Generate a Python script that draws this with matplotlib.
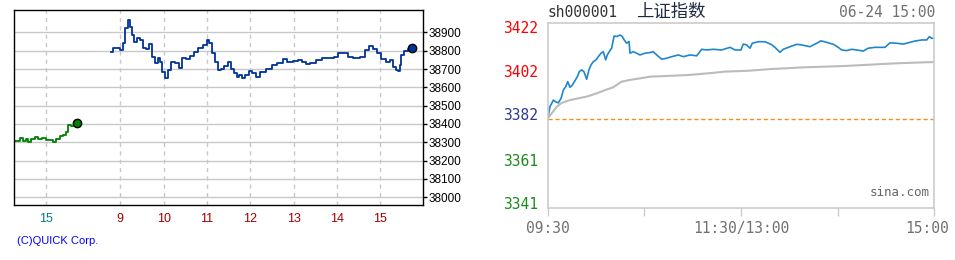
import matplotlib.pyplot as plt
from matplotlib.transforms import ScaledTranslation

# ---- left chart: futures, previous-day tail + day session (hours) ----
prev_hours = [14.278, 14.393, 14.462, 14.532, 14.578, 14.647, 14.739, 14.808, 14.901, 14.993,
              15.085, 15.155, 15.224, 15.316, 15.385, 15.455, 15.501, 15.570, 15.640, 15.709]
prev_vals = [38309, 38322, 38309, 38316, 38303, 38316, 38330, 38318, 38322, 38312,
             38312, 38303, 38316, 38334, 38340, 38358, 38394, 38389, 38394, 38403]

day_hours = [8.774, 8.832, 8.924, 8.993, 9.062, 9.108, 9.178, 9.224, 9.270, 9.316,
             9.385, 9.455, 9.524, 9.593, 9.662, 9.731, 9.800, 9.870, 9.916, 9.962,
             10.031, 10.100, 10.169, 10.262, 10.354, 10.424, 10.516, 10.609, 10.701, 10.793,
             10.909, 11.001, 11.047, 11.116, 11.186, 11.255, 11.324, 11.393, 11.485, 11.555,
             11.624, 11.693, 11.739, 11.806, 11.876, 11.968, 12.038, 12.130, 12.223, 12.361,
             12.500, 12.616, 12.754, 12.847, 12.985, 13.100, 13.193, 13.285, 13.377, 13.516,
             13.654, 13.793, 13.931, 14.023, 14.139, 14.254, 14.369, 14.531, 14.646, 14.739,
             14.831, 14.923, 15.016, 15.131, 15.223, 15.293, 15.362, 15.408, 15.454, 15.477,
             15.546, 15.639, 15.731]
day_vals = [38794, 38816, 38816, 38803, 38842, 38922, 38967, 38931, 38885, 38849,
            38867, 38858, 38813, 38811, 38836, 38767, 38731, 38758, 38740, 38685,
            38649, 38694, 38740, 38735, 38704, 38758, 38756, 38771, 38794, 38816,
            38831, 38858, 38843, 38785, 38740, 38694, 38700, 38718, 38736, 38700,
            38676, 38658, 38667, 38649, 38667, 38690, 38676, 38658, 38685, 38698,
            38722, 38734, 38753, 38740, 38745, 38749, 38740, 38725, 38734, 38749,
            38758, 38758, 38767, 38785, 38785, 38764, 38758, 38767, 38803, 38825,
            38811, 38785, 38753, 38740, 38749, 38713, 38694, 38689, 38722, 38776,
            38800, 38811, 38816]

left_yticks = [38000, 38100, 38200, 38300, 38400, 38500, 38600, 38700, 38800, 38900]
day_ticks = [9, 10, 11, 12, 13, 14, 15]
PREV_SHIFT = 7.708  # previous day drawn left of the day session

# ---- right chart: sh000001 intraday (minutes from 09:30, lunch removed) ----
prev_close = 3381.58
idx_min = [0, 1.4, 3.5, 5.0, 6.6, 8.3, 9.7, 11.2, 12.4, 13.8, 15.3, 16.9, 18.4, 19.6, 21.1,
           22.5, 24.2, 25.6, 26.9, 28.3, 30.0, 31.4, 33.1, 34.5, 36.0, 37.0, 38.2, 39.7, 41.2,
           42.8, 44.9, 46.3, 47.5, 49.0, 50.5, 51.1, 53.1, 55.2, 57.3, 60.4, 63.5, 65.5, 67.7,
           70.8, 73.9, 77.0, 81.1, 84.2, 88.3, 92.5, 95.6, 98.7, 102.8, 108.0, 113.2, 116.3,
           120.0, 121.4, 123.5, 125.6, 127.0, 130.7, 134.9, 138.6, 141.1, 144.2, 146.2, 150.4,
           154.6, 157.7, 162.8, 167.0, 169.6, 173.2, 177.3, 180.4, 182.5, 185.6, 188.7, 191.8,
           195.9, 199.0, 203.2, 209.4, 212.5, 216.6, 220.7, 223.8, 228.0, 232.2, 235.3, 236.9,
           238.4, 240]
idx_vals = [3381.9, 3387.2, 3390.3, 3389.5, 3389.0, 3391.1, 3394.9, 3396.5, 3398.8, 3396.2,
            3397.2, 3399.2, 3401.1, 3403.4, 3404.2, 3403.4, 3399.9, 3404.2, 3406.5, 3408.0,
            3408.8, 3410.3, 3411.9, 3412.6, 3408.8, 3411.1, 3412.6, 3414.2, 3419.8, 3419.6,
            3420.3, 3419.6, 3418.0, 3416.5, 3417.3, 3411.9, 3412.6, 3411.9, 3411.1, 3411.9,
            3412.2, 3412.6, 3411.1, 3409.1, 3409.6, 3410.3, 3411.1, 3410.3, 3411.1, 3410.7,
            3413.7, 3413.4, 3413.7, 3413.4, 3414.6, 3413.4, 3413.4, 3416.1, 3415.7, 3414.2,
            3416.5, 3417.2, 3417.2, 3416.0, 3414.6, 3412.3, 3413.7, 3414.9, 3416.0, 3415.7,
            3414.9, 3416.5, 3417.6, 3416.9, 3416.0, 3414.6, 3413.4, 3413.1, 3413.7, 3413.4,
            3412.9, 3414.2, 3414.6, 3414.6, 3416.7, 3416.5, 3416.1, 3416.7, 3417.5, 3418.0,
            3418.0, 3419.5, 3418.8, 3418.8]
avg_min = [0, 2.5, 5.6, 8.7, 13.8, 18.9, 24.2, 30.4, 35.6, 40.7, 45.9, 51.1, 57.3, 63.5,
           73.9, 88.3, 103.4, 109.6, 124.1, 138.6, 159.3, 184.1, 215.1, 233.7, 240]
avg_vals = [3381.9, 3384.2, 3387.2, 3389.0, 3390.3, 3391.1, 3391.9, 3393.4, 3394.9, 3396.2,
            3398.8, 3399.6, 3400.3, 3401.1, 3401.4, 3401.9, 3402.9, 3403.4, 3403.8, 3404.6,
            3405.4, 3406.0, 3407.2, 3407.7, 3407.8]

right_yticks = [3422, 3402, 3382, 3361, 3341]
right_ycolors = ['#ff0000', '#ff0000', '#2b3a91', '#1a8a1a', '#1a8a1a']
right_xticks = [0, 60, 120, 180, 240]
right_xlabels = ['09:30', '', '11:30/13:00', '', '15:00']

sans = ['Liberation Sans', 'DejaVu Sans']
mono = ['DejaVu Sans Mono']

fig = plt.figure(figsize=(9.55, 2.6), dpi=100)

# ================= left =================
ax = fig.add_axes([14 / 955, 1 - 205 / 260, 409 / 955, 195 / 260])
ax.set_xlim(6.547, 15.985)
ax.set_ylim(37958, 39022)
for v in left_yticks:
    ax.axhline(v, color='#c8c8c8', lw=1, zorder=0)
for h in [15 - PREV_SHIFT] + day_ticks:
    ax.axvline(h, color='#c8c8c8', lw=1, ls=(0, (3, 3)), zorder=0)

px = [h - PREV_SHIFT for h in prev_hours]
ax.plot(px, prev_vals, color='#008000', lw=1.3, drawstyle='steps-post')
ax.plot(px[-1], prev_vals[-1], 'o', ms=6, mfc='#008000', mec='black', mew=1)
ax.plot(day_hours, day_vals, color='#003399', lw=1.3, drawstyle='steps-post')
ax.plot(day_hours[-1], day_vals[-1], 'o', ms=6, mfc='#003399', mec='black', mew=1)

for s in ax.spines.values():
    s.set_color('black')
    s.set_linewidth(1.0)
ax.yaxis.tick_right()
ax.set_yticks(left_yticks)
ax.set_yticklabels([str(v) for v in left_yticks], family=sans, fontsize=8.5)
ax.tick_params(axis='y', direction='out', length=3, width=1, pad=1)
ax.set_xticks([15 - PREV_SHIFT] + day_ticks)
ax.set_xticklabels(['15'] + [str(h) for h in day_ticks], family=sans, fontsize=9)
ax.tick_params(axis='x', length=0, pad=6)
for i, lab in enumerate(ax.get_xticklabels()):
    lab.set_color('#007b7b' if i == 0 else '#a00000')

fig.text(17 / 955, 1 - 240.7 / 260, '(C)QUICK Corp.', color='#0000ff', fontsize=8,
         family=sans, va='center', ha='left')

# ================= right =================
ax2 = fig.add_axes([547.7 / 955, 1 - 208.3 / 260, 386.6 / 955, 185.6 / 260])
ax2.set_xlim(0, 240)
ax2.set_ylim(prev_close - 89.3 / 2.17, prev_close + 96.3 / 2.17)
ax2.axhline(prev_close, color='#f0901e', lw=1, ls=(0, (3, 2)))
ax2.plot(avg_min, avg_vals, color='#bbbbbb', lw=1.5)
ax2.plot(idx_min, idx_vals, color='#1f86cc', lw=1.2)

for s in ax2.spines.values():
    s.set_color('#cccccc')
    s.set_linewidth(1.2)
ax2.set_yticks(right_yticks)
ax2.set_yticklabels([str(v) for v in right_yticks], family=mono, fontsize=10.5)
ax2.tick_params(axis='y', length=0, pad=7)
shift_up = ScaledTranslation(0, 4 / 100, fig.dpi_scale_trans)
for lab, c in zip(ax2.get_yticklabels(), right_ycolors):
    lab.set_color(c)
    lab.set_transform(lab.get_transform() + shift_up)
ax2.set_xticks(right_xticks)
ax2.set_xticklabels(right_xlabels, family=mono, fontsize=10.5, color='#707070')
ax2.tick_params(axis='x', length=6, width=1, color='#cccccc', pad=3)
last = ax2.get_xticklabels()[-1]
last.set_transform(last.get_transform() + ScaledTranslation(-7 / 100, 0, fig.dpi_scale_trans))

ax2.text(0.989, 0.084, 'sina.com', transform=ax2.transAxes, ha='right', va='center',
         family=mono, fontsize=9, color='#666666')

fig.text(547.7 / 955, 1 - 12 / 260, 'sh000001', family=mono, fontsize=10.5,
         color='#333333', va='center', ha='left')
fig.text(635.7 / 955, 1 - 12 / 260, '上证指数', family=['Noto Sans CJK SC', 'DejaVu Sans'],
         fontsize=12.5, color='#1e2a44', va='center', ha='left')
fig.text(935 / 955, 1 - 12 / 260, '06-24 15:00', family=mono, fontsize=10.5,
         color='#707070', va='center', ha='right')

fig.savefig('out.png', dpi=100)
